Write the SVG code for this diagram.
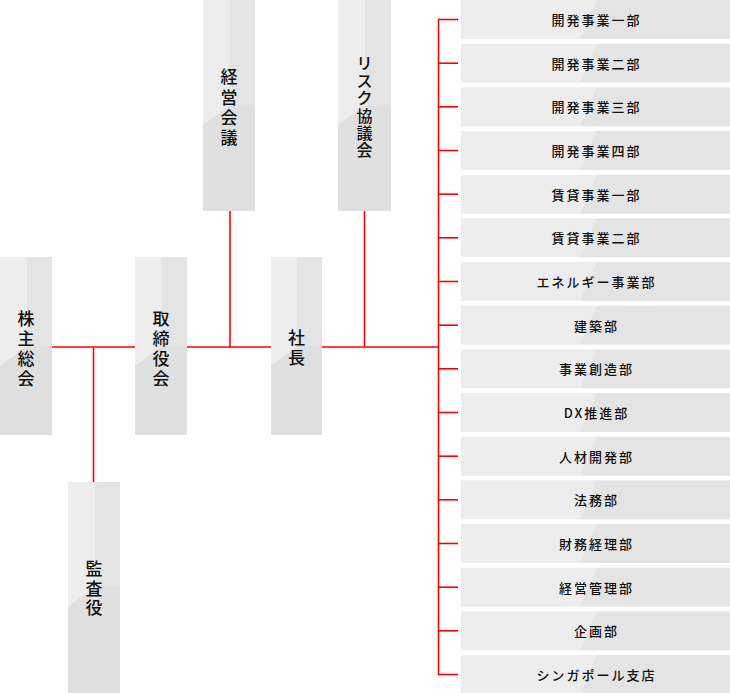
<svg xmlns="http://www.w3.org/2000/svg" width="730" height="693" viewBox="0 0 730 693">
<style>
.bx{fill:#ededed}
.sh{fill:#000;opacity:0.035}
.sh2{fill:#000;opacity:0.05}
.ln{stroke:#ff0000;stroke-width:1.6;fill:none}
.vt{font-family:"Noto Sans CJK JP","Noto Sans",sans-serif;font-size:17px;font-weight:500;fill:#111;text-anchor:middle;dominant-baseline:central}
.vt2{font-family:"Noto Sans CJK JP","Noto Sans",sans-serif;font-size:16px;font-weight:500;fill:#111;text-anchor:middle;dominant-baseline:central}
.ht{font-family:"Noto Sans CJK JP","Noto Sans",sans-serif;font-size:13px;font-weight:500;fill:#111;text-anchor:middle;dominant-baseline:central;letter-spacing:2px}
</style>
<rect width="730" height="693" fill="#ffffff"/>
<g id="connectors">
<line class="ln" x1="52" y1="347" x2="135" y2="347"/>
<line class="ln" x1="93.5" y1="347" x2="93.5" y2="482"/>
<line class="ln" x1="187" y1="347" x2="271" y2="347"/>
<line class="ln" x1="230" y1="211" x2="230" y2="347"/>
<line class="ln" x1="322" y1="347" x2="438" y2="347"/>
<line class="ln" x1="364.5" y1="211" x2="364.5" y2="347"/>
<line class="ln" x1="438.5" y1="19.5" x2="438.5" y2="674.5"/>
<line class="ln" x1="438" y1="19.5" x2="458" y2="19.5"/>
<line class="ln" x1="438" y1="63.2" x2="458" y2="63.2"/>
<line class="ln" x1="438" y1="106.8" x2="458" y2="106.8"/>
<line class="ln" x1="438" y1="150.5" x2="458" y2="150.5"/>
<line class="ln" x1="438" y1="194.2" x2="458" y2="194.2"/>
<line class="ln" x1="438" y1="237.8" x2="458" y2="237.8"/>
<line class="ln" x1="438" y1="281.5" x2="458" y2="281.5"/>
<line class="ln" x1="438" y1="325.2" x2="458" y2="325.2"/>
<line class="ln" x1="438" y1="368.8" x2="458" y2="368.8"/>
<line class="ln" x1="438" y1="412.5" x2="458" y2="412.5"/>
<line class="ln" x1="438" y1="456.2" x2="458" y2="456.2"/>
<line class="ln" x1="438" y1="499.8" x2="458" y2="499.8"/>
<line class="ln" x1="438" y1="543.5" x2="458" y2="543.5"/>
<line class="ln" x1="438" y1="587.2" x2="458" y2="587.2"/>
<line class="ln" x1="438" y1="630.8" x2="458" y2="630.8"/>
<line class="ln" x1="438" y1="674.5" x2="458" y2="674.5"/>
</g>
<g id="kabunushi">
<rect class="bx" x="0" y="257" width="52" height="178"/>
<rect class="sh" x="27" y="257" width="25" height="89"/>
<polygon class="sh2" points="0,366 27,346 52,346 52,435 0,435"/>
<text class="vt"><tspan x="26" y="317">株</tspan><tspan x="26" y="337">主</tspan><tspan x="26" y="357">総</tspan><tspan x="26" y="377">会</tspan></text>
</g>
<g id="torishimariyakukai">
<rect class="bx" x="135" y="257" width="52" height="178"/>
<rect class="sh" x="162" y="257" width="25" height="89"/>
<polygon class="sh2" points="135,366 162,346 187,346 187,435 135,435"/>
<text class="vt"><tspan x="161" y="317">取</tspan><tspan x="161" y="337">締</tspan><tspan x="161" y="357">役</tspan><tspan x="161" y="377">会</tspan></text>
</g>
<g id="shacho">
<rect class="bx" x="271" y="257" width="51" height="178"/>
<rect class="sh" x="297" y="257" width="25" height="89"/>
<polygon class="sh2" points="271,366 297,346 322,346 322,435 271,435"/>
<text class="vt"><tspan x="296.5" y="336">社</tspan><tspan x="296.5" y="356">長</tspan></text>
</g>
<g id="keieikaigi">
<rect class="bx" x="203" y="0" width="52" height="211"/>
<rect class="sh" x="230" y="0" width="25" height="105"/>
<polygon class="sh2" points="203,125 230,105 255,105 255,211 203,211"/>
<text class="vt"><tspan x="229" y="75">経</tspan><tspan x="229" y="96">営</tspan><tspan x="229" y="116">会</tspan><tspan x="229" y="136">議</tspan></text>
</g>
<g id="risk">
<rect class="bx" x="338" y="0" width="53" height="211"/>
<rect class="sh" x="365" y="0" width="26" height="105"/>
<polygon class="sh2" points="338,125 365,105 391,105 391,211 338,211"/>
<text class="vt2"><tspan x="364.5" y="62">リ</tspan><tspan x="364.5" y="80">ス</tspan><tspan x="364.5" y="97">ク</tspan><tspan x="364.5" y="115">協</tspan><tspan x="364.5" y="132">議</tspan><tspan x="364.5" y="149">会</tspan></text>
</g>
<g id="kansayaku">
<rect class="bx" x="68" y="482" width="52" height="211"/>
<rect class="sh" x="95" y="482" width="25" height="105"/>
<polygon class="sh2" points="68,607 95,587 120,587 120,693 68,693"/>
<text class="vt"><tspan x="94" y="567">監</tspan><tspan x="94" y="587">査</tspan><tspan x="94" y="606">役</tspan></text>
</g>
<g id="dept01"><rect class="bx" x="461" y="0" width="269" height="39"/><polygon class="sh" points="597,0 730,0 730,39 580,39"/><text class="ht" x="596.5" y="19.5">開発事業一部</text></g>
<g id="dept02"><rect class="bx" x="461" y="43.7" width="269" height="39"/><polygon class="sh" points="597,43.7 730,43.7 730,82.7 580,82.7"/><text class="ht" x="596.5" y="63.2">開発事業二部</text></g>
<g id="dept03"><rect class="bx" x="461" y="87.3" width="269" height="39"/><polygon class="sh" points="597,87.3 730,87.3 730,126.3 580,126.3"/><text class="ht" x="596.5" y="106.8">開発事業三部</text></g>
<g id="dept04"><rect class="bx" x="461" y="131" width="269" height="39"/><polygon class="sh" points="597,131 730,131 730,170 580,170"/><text class="ht" x="596.5" y="150.5">開発事業四部</text></g>
<g id="dept05"><rect class="bx" x="461" y="174.7" width="269" height="39"/><polygon class="sh" points="597,174.7 730,174.7 730,213.7 580,213.7"/><text class="ht" x="596.5" y="194.2">賃貸事業一部</text></g>
<g id="dept06"><rect class="bx" x="461" y="218.3" width="269" height="39"/><polygon class="sh" points="597,218.3 730,218.3 730,257.3 580,257.3"/><text class="ht" x="596.5" y="237.8">賃貸事業二部</text></g>
<g id="dept07"><rect class="bx" x="461" y="262" width="269" height="39"/><polygon class="sh" points="597,262 730,262 730,301 580,301"/><text class="ht" x="596.5" y="281.5">エネルギー事業部</text></g>
<g id="dept08"><rect class="bx" x="461" y="305.7" width="269" height="39"/><polygon class="sh" points="597,305.7 730,305.7 730,344.7 580,344.7"/><text class="ht" x="596.5" y="325.2">建築部</text></g>
<g id="dept09"><rect class="bx" x="461" y="349.3" width="269" height="39"/><polygon class="sh" points="597,349.3 730,349.3 730,388.3 580,388.3"/><text class="ht" x="596.5" y="368.8">事業創造部</text></g>
<g id="dept10"><rect class="bx" x="461" y="393" width="269" height="39"/><polygon class="sh" points="597,393 730,393 730,432 580,432"/><text class="ht" x="596.5" y="412.5">DX推進部</text></g>
<g id="dept11"><rect class="bx" x="461" y="436.7" width="269" height="39"/><polygon class="sh" points="597,436.7 730,436.7 730,475.7 580,475.7"/><text class="ht" x="596.5" y="456.2">人材開発部</text></g>
<g id="dept12"><rect class="bx" x="461" y="480.3" width="269" height="39"/><polygon class="sh" points="597,480.3 730,480.3 730,519.3 580,519.3"/><text class="ht" x="596.5" y="499.8">法務部</text></g>
<g id="dept13"><rect class="bx" x="461" y="524" width="269" height="39"/><polygon class="sh" points="597,524 730,524 730,563 580,563"/><text class="ht" x="596.5" y="543.5">財務経理部</text></g>
<g id="dept14"><rect class="bx" x="461" y="567.7" width="269" height="39"/><polygon class="sh" points="597,567.7 730,567.7 730,606.7 580,606.7"/><text class="ht" x="596.5" y="587.2">経営管理部</text></g>
<g id="dept15"><rect class="bx" x="461" y="611.3" width="269" height="39"/><polygon class="sh" points="597,611.3 730,611.3 730,650.3 580,650.3"/><text class="ht" x="596.5" y="630.8">企画部</text></g>
<g id="dept16"><rect class="bx" x="461" y="655" width="269" height="39"/><polygon class="sh" points="597,655 730,655 730,694 580,694"/><text class="ht" x="596.5" y="674.5">シンガポール支店</text></g>
</svg>
